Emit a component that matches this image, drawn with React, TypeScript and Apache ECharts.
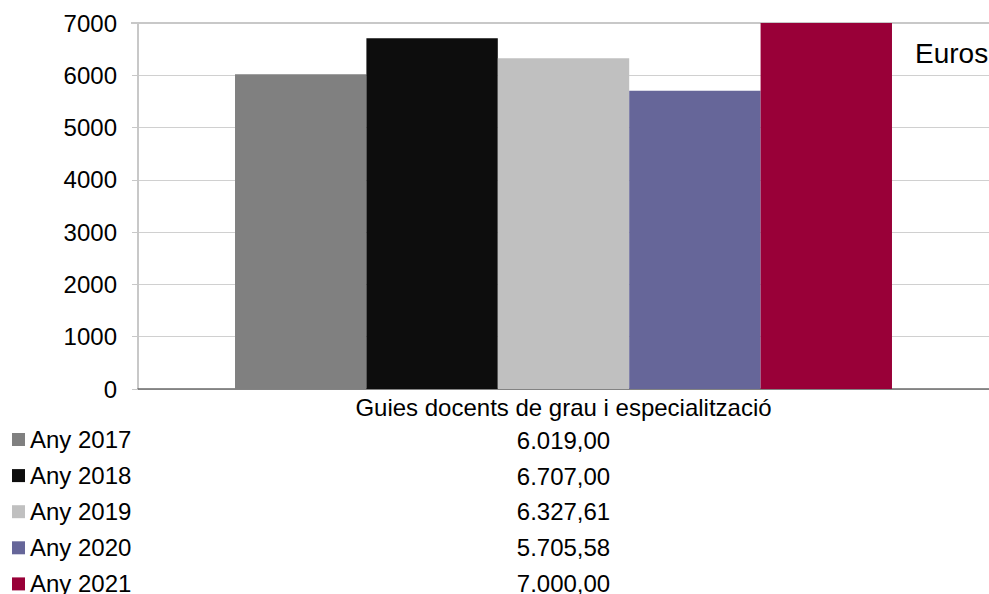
import React, { useEffect, useRef } from "react";
import * as echarts from "echarts";

const categories = ["Guies docents de grau i especialització"];
const seriesNames = ["Any 2017", "Any 2018", "Any 2019", "Any 2020", "Any 2021"];
const seriesValues = [6019.0, 6707.0, 6327.61, 5705.58, 7000.0];
const seriesColors = ["#808080", "#0d0d0d", "#c0c0c0", "#666699", "#990038"];
const yTicks = [0, 1000, 2000, 3000, 4000, 5000, 6000, 7000];
const unitLabel = "Euros";

const FONT = "'Liberation Sans', Arial, sans-serif";

function fmt(v: number): string {
  const [intPart, dec] = v.toFixed(2).split(".");
  const withDots = intPart.replace(/\B(?=(\d{3})+(?!\d))/g, ".");
  return withDots + "," + dec;
}

export default function App() {
  const ref = useRef<HTMLDivElement>(null);
  useEffect(() => {
    if (!ref.current) return;
    const chart = echarts.init(ref.current, null, { renderer: "svg" });
    const rowY = [440.5, 476.2, 511.8, 547.5, 583.1];
    chart.setOption({
      animation: false,
      textStyle: { fontFamily: FONT },
      grid: { left: 138, right: 0, top: 23, bottom: 205, containLabel: false },
      legend: {
        orient: "vertical",
        left: 12,
        top: 427.5,
        height: 260,
        padding: 0,
        icon: "rect",
        itemWidth: 13,
        itemHeight: 13,
        itemGap: 12.1,
        data: seriesNames,
        textStyle: { fontSize: 24, color: "#000", fontFamily: FONT, lineHeight: 23 },
        selectedMode: false,
      },
      xAxis: {
        type: "category",
        data: categories,
        axisLine: { show: true, lineStyle: { color: "#6a6a6a", width: 1.5 } },
        axisTick: { show: false },
        axisLabel: { fontSize: 24, color: "#000", margin: 6, fontFamily: FONT },
      },
      yAxis: {
        type: "value",
        min: yTicks[0],
        max: yTicks[yTicks.length - 1],
        interval: 1000,
        axisLine: { show: true, lineStyle: { color: "#c8c8c8", width: 2 } },
        axisTick: { show: true, length: 6, lineStyle: { color: "#c8c8c8" } },
        axisLabel: {
          fontSize: 24,
          color: "#000",
          margin: 21,
          fontFamily: FONT,
          formatter: (v: number) => String(v),
        },
        splitLine: { show: true, lineStyle: { color: "#d0d0d0", width: 1 } },
      },
      series: seriesNames.map((name, i) => ({
        name,
        type: "bar",
        data: [seriesValues[i]],
        itemStyle: { color: seriesColors[i] },
        barGap: "0%",
        barCategoryGap: "22.8%",
      })),
    });
    const cx = chart.convertToPixel({ xAxisIndex: 0 }, categories[0]) as number;
    const yTop = chart.convertToPixel({ yAxisIndex: 0 }, yTicks[yTicks.length - 1]) as number;
    chart.setOption({
      graphic: [
        {
          type: "line",
          shape: { x1: 131, y1: yTop, x2: 989, y2: yTop },
          style: { stroke: "#c8c8c8", lineWidth: 2 },
          z: 1,
        },
        {
          type: "text",
          x: 915,
          y: 53,
          style: {
            text: unitLabel,
            fontSize: 28,
            fontFamily: FONT,
            fill: "#000",
            textAlign: "left",
            textVerticalAlign: "middle",
          },
          z: 10,
        },
        ...seriesValues.map((v, i) => ({
          type: "text",
          x: cx,
          y: rowY[i],
          style: {
            text: fmt(v),
            fontSize: 24,
            fontFamily: FONT,
            fill: "#000",
            textAlign: "center",
            textVerticalAlign: "middle",
          },
        })),
      ],
    });
    return () => chart.dispose();
  }, []);
  return <div ref={ref} style={{ width: 989, height: 594, position: "absolute", left: 0, top: 0 }} />;
}
